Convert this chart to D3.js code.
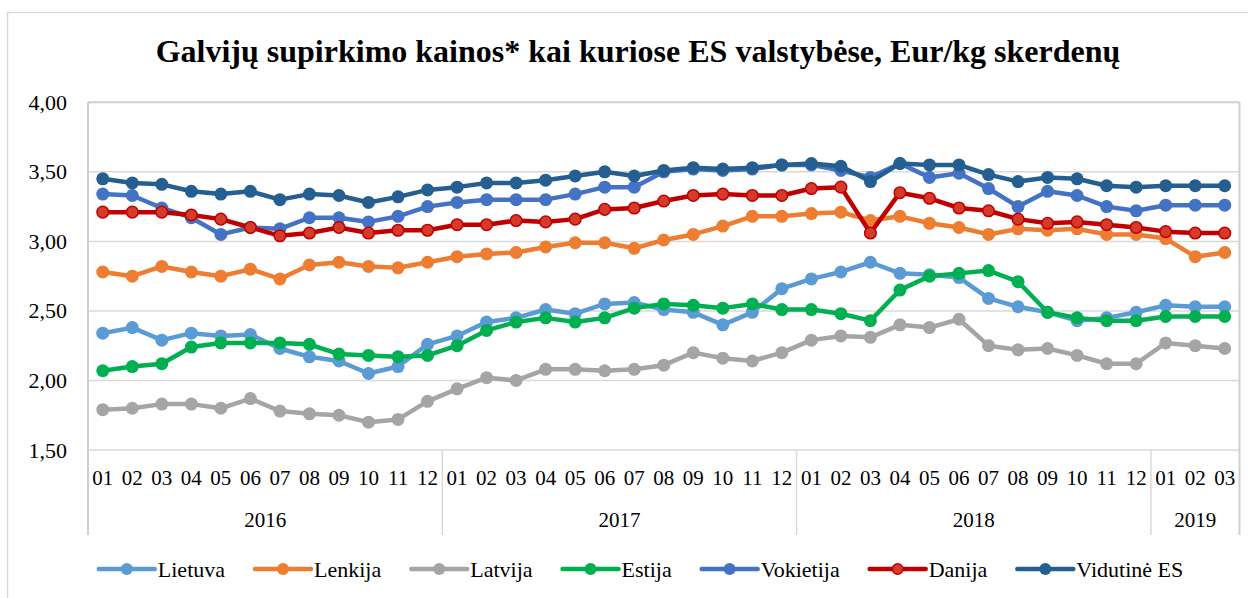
<!DOCTYPE html>
<html>
<head>
<meta charset="utf-8">
<script src="https://cdn.jsdelivr.net/npm/d3@7"></script>
<style>
  body { margin: 0; background: #fff; }
  svg { display: block; font-family: "Liberation Serif", "Times New Roman", serif; }
</style>
</head>
<body>
<svg id="chart"></svg>
<script>
var width = 1258;
var height = 598;

// chart data
var years = ["2016", "2017", "2018", "2019"];
var monthsPerYear = [12, 12, 12, 3];
var monthLabels = ["01","02","03","04","05","06","07","08","09","10","11","12"];
var yTicks = [1.5, 2.0, 2.5, 3.0, 3.5, 4.0];

var seriesNames = ["Lietuva", "Lenkija", "Latvija", "Estija", "Vokietija", "Danija", "Vidutinė ES"];
var seriesColors = ["#5B9BD5", "#ED7D31", "#A5A5A5", "#00B050", "#4472C4", "#C00000", "#255E91"];

var lietuva = [2.34, 2.38, 2.29, 2.34, 2.32, 2.33, 2.23, 2.17, 2.14, 2.05, 2.10, 2.26,
               2.32, 2.42, 2.45, 2.51, 2.48, 2.55, 2.56, 2.51, 2.49, 2.40, 2.49, 2.66,
               2.73, 2.78, 2.85, 2.77, 2.76, 2.74, 2.59, 2.53, 2.49, 2.43, 2.45, 2.49,
               2.54, 2.53, 2.53];
var lenkija = [2.78, 2.75, 2.82, 2.78, 2.75, 2.80, 2.73, 2.83, 2.85, 2.82, 2.81, 2.85,
               2.89, 2.91, 2.92, 2.96, 2.99, 2.99, 2.95, 3.01, 3.05, 3.11, 3.18, 3.18,
               3.20, 3.21, 3.15, 3.18, 3.13, 3.10, 3.05, 3.09, 3.08, 3.09, 3.05, 3.05,
               3.02, 2.89, 2.92];
var latvija = [1.79, 1.80, 1.83, 1.83, 1.80, 1.87, 1.78, 1.76, 1.75, 1.70, 1.72, 1.85,
               1.94, 2.02, 2.00, 2.08, 2.08, 2.07, 2.08, 2.11, 2.20, 2.16, 2.14, 2.20,
               2.29, 2.32, 2.31, 2.40, 2.38, 2.44, 2.25, 2.22, 2.23, 2.18, 2.12, 2.12,
               2.27, 2.25, 2.23];
var estija = [2.07, 2.10, 2.12, 2.24, 2.27, 2.27, 2.27, 2.26, 2.19, 2.18, 2.17, 2.18,
              2.25, 2.36, 2.42, 2.45, 2.42, 2.45, 2.52, 2.55, 2.54, 2.52, 2.55, 2.51,
              2.51, 2.48, 2.43, 2.65, 2.75, 2.77, 2.79, 2.71, 2.49, 2.45, 2.43, 2.43,
              2.46, 2.46, 2.46];
var vokietija = [3.34, 3.33, 3.24, 3.17, 3.05, 3.10, 3.09, 3.17, 3.17, 3.14, 3.18, 3.25,
                 3.28, 3.30, 3.30, 3.30, 3.34, 3.39, 3.39, 3.50, 3.52, 3.51, 3.52, 3.55,
                 3.55, 3.51, 3.46, 3.56, 3.46, 3.49, 3.38, 3.25, 3.36, 3.33, 3.25, 3.22,
                 3.26, 3.26, 3.26];
var danija = [3.21, 3.21, 3.21, 3.19, 3.16, 3.10, 3.04, 3.06, 3.10, 3.06, 3.08, 3.08,
              3.12, 3.12, 3.15, 3.14, 3.16, 3.23, 3.24, 3.29, 3.33, 3.34, 3.33, 3.33,
              3.38, 3.39, 3.06, 3.35, 3.31, 3.24, 3.22, 3.16, 3.13, 3.14, 3.12, 3.10,
              3.07, 3.06, 3.06];
var vidutineES = [3.45, 3.42, 3.41, 3.36, 3.34, 3.36, 3.30, 3.34, 3.33, 3.28, 3.32, 3.37,
                  3.39, 3.42, 3.42, 3.44, 3.47, 3.50, 3.47, 3.51, 3.53, 3.52, 3.53, 3.55,
                  3.56, 3.54, 3.43, 3.56, 3.55, 3.55, 3.48, 3.43, 3.46, 3.45, 3.40, 3.39,
                  3.40, 3.40, 3.40];

var seriesValues = [lietuva, lenkija, latvija, estija, vokietija, danija, vidutineES];

// categories: one per month, key = year-month
var categories = [];
years.forEach(function(y, yi) {
    for (var m = 0; m < monthsPerYear[yi]; m++) {
        categories.push({ key: y + "-" + monthLabels[m], year: y, month: monthLabels[m] });
    }
});

var plotLeft = 88, plotRight = 1239.5, plotTop = 102.3, plotBottom = 450;
var axisBottom = 535;

var svg = d3.select("#chart")
        .attr("width", width)
        .attr("height", height);

// outer frame (only top and left edges are inside the picture)
svg.append("path")
    .attr("d", "M7.5,598 V12.5 H1248")
    .attr("fill", "none")
    .attr("stroke", "#d9d9d9")
    .attr("stroke-width", 1.5);

// title
svg.append("text")
    .attr("x", 638)
    .attr("y", 62)
    .attr("text-anchor", "middle")
    .attr("font-size", "32px")
    .attr("font-weight", "bold")
    .attr("fill", "#000")
    .text("Galvijų supirkimo kainos* kai kuriose ES valstybėse, Eur/kg skerdenų");

var x = d3.scaleBand()
    .domain(categories.map(c => c.key))
    .range([plotLeft, plotRight])
    .padding(0);

var y = d3.scaleLinear()
    .domain([1.5, 4])
    .range([plotBottom, plotTop]);

var cx = key => x(key) + x.bandwidth() / 2;

// gridlines
svg.append("g")
    .selectAll("line")
    .data(yTicks)
    .enter()
    .append("line")
        .attr("x1", plotLeft)
        .attr("x2", plotRight)
        .attr("y1", d => y(d))
        .attr("y2", d => y(d))
        .attr("stroke", d => d === 4 ? "#cfcfcf" : "#d9d9d9")
        .attr("stroke-width", d => d === 4 ? 2 : 1.5);

// y axis labels
var yAxis = d3.axisLeft(y)
    .tickValues(yTicks)
    .tickSize(0)
    .tickPadding(0)
    .tickFormat(d => d3.format(".2f")(d).replace(".", ","));

var yg = svg.append("g")
    .attr("transform", "translate(67,0)")
    .call(yAxis);
yg.select(".domain").remove();
yg.selectAll("text")
    .attr("font-family", "Liberation Serif, serif")
    .attr("font-size", "22px")
    .attr("fill", "#000")
    .attr("dy", "0.32em");

// plot frame: left and right sides down through the category axis
[plotLeft, plotRight].forEach(function(px) {
    svg.append("line")
        .attr("x1", px).attr("x2", px)
        .attr("y1", plotTop).attr("y2", axisBottom)
        .attr("stroke", "#cfcfcf")
        .attr("stroke-width", 2);
});

// year separators
var yearStarts = [];
years.forEach(function(yr, yi) {
    var first = categories.find(c => c.year === yr);
    var last = categories.filter(c => c.year === yr).pop();
    yearStarts.push({ year: yr, x0: x(first.key), x1: x(last.key) + x.bandwidth() });
});

svg.append("g")
    .selectAll("line")
    .data(yearStarts.slice(1))
    .enter()
    .append("line")
        .attr("x1", d => d.x0).attr("x2", d => d.x0)
        .attr("y1", plotBottom).attr("y2", axisBottom)
        .attr("stroke", "#d9d9d9")
        .attr("stroke-width", 1.5);

// month labels
var xAxis = d3.axisBottom(x)
    .tickSize(0)
    .tickPadding(0)
    .tickFormat(k => categories.find(c => c.key === k).month);

var xg = svg.append("g")
    .attr("transform", "translate(0," + plotBottom + ")")
    .call(xAxis);
xg.select(".domain").remove();
xg.selectAll("text")
    .attr("font-family", "Liberation Serif, serif")
    .attr("font-size", "21px")
    .attr("fill", "#000")
    .attr("dy", null)
    .attr("y", 35);

// year labels
svg.append("g")
    .selectAll("text")
    .data(yearStarts)
    .enter()
    .append("text")
        .attr("x", d => (d.x0 + d.x1) / 2)
        .attr("y", 527)
        .attr("text-anchor", "middle")
        .attr("font-size", "21px")
        .attr("fill", "#000")
        .text(d => d.year);

// lines + markers
var line = d3.line()
    .x((d, i) => cx(categories[i].key))
    .y(d => y(d));

seriesNames.forEach(function(name, si) {
    var vals = seriesValues[si];
    var color = seriesColors[si];
    var g = svg.append("g").attr("class", "series");
    g.append("path")
        .datum(vals)
        .attr("d", line)
        .attr("fill", "none")
        .attr("stroke", color)
        .attr("stroke-width", 4.5)
        .attr("stroke-linejoin", "round");
    g.selectAll("circle")
        .data(vals)
        .enter()
        .append("circle")
            .attr("cx", (d, i) => cx(categories[i].key))
            .attr("cy", d => y(d))
            .attr("r", name === "Danija" ? 5.8 : 6.5)
            .attr("fill", name === "Danija" ? "#D43B2A" : color)
            .attr("stroke", name === "Danija" ? color : "none")
            .attr("stroke-width", 1.5);
});

// legend
var legend = svg.append("g");
var lx = 0;
seriesNames.forEach(function(name, si) {
    var item = legend.append("g");
    item.append("line")
        .attr("x1", 0).attr("x2", 56)
        .attr("y1", 0).attr("y2", 0)
        .attr("stroke", seriesColors[si])
        .attr("stroke-width", 4.5)
        .attr("stroke-linecap", "round");
    item.append("circle")
        .attr("cx", 28).attr("cy", 0)
        .attr("r", name === "Danija" ? 5.3 : 6)
        .attr("fill", name === "Danija" ? "#D43B2A" : seriesColors[si])
        .attr("stroke", name === "Danija" ? seriesColors[si] : "none")
        .attr("stroke-width", 1.5);
    var t = item.append("text")
        .attr("x", 59)
        .attr("y", 8)
        .attr("font-size", "22px")
        .attr("fill", "#000")
        .text(name);
    var w = 59 + t.node().getComputedTextLength();
    item.attr("transform", "translate(" + lx + ",0)");
    lx += w + 30;
});
var legendWidth = lx - 30;
legend.attr("transform", "translate(" + (641 - legendWidth / 2) + ",569)");
</script>
</body>
</html>
